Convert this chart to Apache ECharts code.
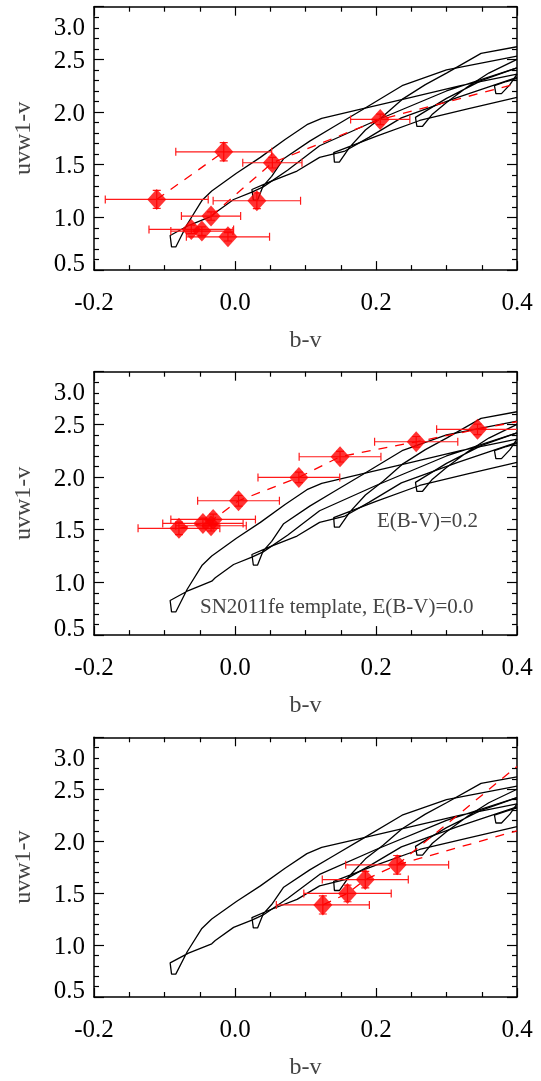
<!DOCTYPE html>
<html>
<head>
<meta charset="utf-8">
<title>uvw1-v vs b-v</title>
<script src="https://cdn.jsdelivr.net/npm/echarts@6/dist/echarts.min.js"></script>
<style>
  html, body { margin: 0; padding: 0; background: #fff; }
  #chart { width: 541px; height: 1081px; }
</style>
</head>
<body>
<div id="chart"></div>
<script>
// SN2011fe template tracks, one per E(B-V) step: [b-v, uvw1-v]
var track0 = [[0.40,2.42],[0.30,2.20],[0.20,1.92],[0.12,1.68],[0.075,1.45],[0.04,1.29],[0.024,1.24],[-0.002,1.17],[-0.028,1.044],[-0.033,1.012],[-0.066,0.923],[-0.092,0.828],[-0.090,0.72],[-0.084,0.72],[-0.068,0.933],[-0.047,1.16],[-0.033,1.25],[0.002,1.42],[0.036,1.57],[0.071,1.74],[0.102,1.88],[0.123,1.94],[0.177,2.025],[0.25,2.14],[0.32,2.25],[0.40,2.36]];
var track1 = [[0.40,2.33],[0.316,2.14],[0.236,1.945],[0.19,1.76],[0.156,1.63],[0.12,1.57],[0.088,1.44],[0.05,1.34],[0.024,1.265],[0.026,1.165],[0.032,1.165],[0.04,1.30],[0.052,1.39],[0.069,1.557],[0.106,1.724],[0.14,1.86],[0.18,2.02],[0.237,2.25],[0.30,2.40],[0.40,2.53]];
var track2 = [[0.40,2.14],[0.33,2.03],[0.262,1.92],[0.20,1.77],[0.14,1.614],[0.141,1.525],[0.148,1.525],[0.163,1.67],[0.185,1.83],[0.21,1.96],[0.237,2.12],[0.27,2.26],[0.30,2.37],[0.349,2.557],[0.40,2.62]];
var track3 = [[0.40,2.42],[0.35,2.30],[0.30,2.13],[0.256,1.95],[0.258,1.865],[0.266,1.865],[0.28,1.98],[0.30,2.09],[0.33,2.24],[0.36,2.37],[0.40,2.50]];
var track4 = [[0.40,2.32],[0.385,2.29],[0.368,2.25],[0.370,2.175],[0.378,2.175],[0.39,2.26],[0.40,2.36]];
var templateTracks = [track0, track1, track2, track3, track4];

// panel 1 observations
var obs1X    = [-0.111, -0.016, 0.053, 0.031, -0.034, -0.062, -0.047, -0.010, 0.206];
var obs1Y    = [1.171, 1.623, 1.519, 1.158, 1.013, 0.886, 0.870, 0.816, 1.930];
var obs1XErr = [0.073, 0.068, 0.042, 0.062, 0.042, 0.060, 0.044, 0.059, 0.042];
var obs1YErr = [0.085, 0.087, 0.050, 0.075, 0.040, 0.040, 0.040, 0.040, 0.050];
var dash1 = [
  [[-0.111,1.171],[-0.016,1.623]],
  [[-0.034,1.013],[0.053,1.519],[0.206,1.930],[0.40,2.27]]
];

// panel 2 observations
var obs2X    = [-0.0795, -0.0455, -0.034, -0.031, 0.005, 0.0906, 0.149, 0.257, 0.344];
var obs2Y    = [1.513, 1.560, 1.538, 1.598, 1.775, 1.997, 2.193, 2.335, 2.453];
var obs2XErr = [0.058, 0.057, 0.050, 0.060, 0.058, 0.058, 0.058, 0.059, 0.058];
var obs2YErr = [0.060, 0.050, 0.050, 0.050, 0.050, 0.050, 0.050, 0.050, 0.050];
var dash2 = [
  [[-0.0795,1.513],[-0.0455,1.560],[-0.034,1.538],[-0.031,1.598],[0.005,1.775],[0.0906,1.997],[0.149,2.193],[0.257,2.335],[0.344,2.453],[0.40,2.525]]
];

// panel 3 observations
var obs3X    = [0.1246, 0.1596, 0.1848, 0.230];
var obs3Y    = [1.386, 1.497, 1.630, 1.772];
var obs3XErr = [0.066, 0.062, 0.061, 0.073];
var obs3YErr = [0.087, 0.080, 0.080, 0.090];
var dash3 = [
  [[0.1246,1.386],[0.1596,1.497],[0.1848,1.630],[0.230,1.772],[0.40,2.10]],
  [[0.230,1.772],[0.40,2.72]]
];

var xTicks = { min: -0.2, max: 0.4, interval: 0.2 };
var yTicks = { min: 0.5, max: 3.0, interval: 0.5 };

var panels = [
  { x: obs1X, y: obs1Y, ex: obs1XErr, ey: obs1YErr, dash: dash1 },
  { x: obs2X, y: obs2Y, ex: obs2XErr, ey: obs2YErr, dash: dash2 },
  { x: obs3X, y: obs3Y, ex: obs3XErr, ey: obs3YErr, dash: dash3 }
];

var FONT = '"Liberation Serif", "DejaVu Serif", serif';
var RED = '#ff0000';
var gridTops = [6.7, 371.7, 737.3];

var grids = [], xAxes = [], yAxes = [], series = [];

function errorBars(params, api) {
  var x = api.value(0), y = api.value(1), ex = api.value(2), ey = api.value(3);
  var l = api.coord([x - ex, y]), r = api.coord([x + ex, y]);
  var b = api.coord([x, y - ey]), t = api.coord([x, y + ey]);
  var c = 4;
  var st = { stroke: '#ff1a1a', lineWidth: 1.2 };
  return {
    type: 'group',
    children: [
      { type: 'line', shape: { x1: l[0], y1: l[1], x2: r[0], y2: r[1] }, style: st },
      { type: 'line', shape: { x1: l[0], y1: l[1] - c, x2: l[0], y2: l[1] + c }, style: st },
      { type: 'line', shape: { x1: r[0], y1: r[1] - c, x2: r[0], y2: r[1] + c }, style: st },
      { type: 'line', shape: { x1: b[0], y1: b[1], x2: t[0], y2: t[1] }, style: st },
      { type: 'line', shape: { x1: b[0] - c, y1: b[1], x2: b[0] + c, y2: b[1] }, style: st },
      { type: 'line', shape: { x1: t[0] - c, y1: t[1], x2: t[0] + c, y2: t[1] }, style: st }
    ]
  };
}

panels.forEach(function (p, i) {
  grids.push({ left: 94, width: 423, top: gridTops[i], height: 263.4 });

  var xBase = {
    gridIndex: i, type: 'value',
    min: xTicks.min, max: xTicks.max, interval: xTicks.interval,
    axisLine: { show: true, onZero: false, lineStyle: { color: '#000', width: 1.5 } },
    axisTick: { show: true, inside: true, length: 9, lineStyle: { color: '#000', width: 1.2 } },
    minorTick: { show: true, splitNumber: 4, length: 5, lineStyle: { color: '#000', width: 1.2 } },
    splitLine: { show: false }
  };
  xAxes.push(Object.assign({}, xBase, {
    position: 'bottom',
    axisLabel: {
      show: true, margin: 21, color: '#000', fontFamily: FONT, fontSize: 25,
      showMinLabel: true, showMaxLabel: true,
      formatter: function (v) { return v.toFixed(1); }
    },
    name: 'b-v', nameLocation: 'middle', nameGap: 59,
    nameTextStyle: { color: '#444', fontFamily: FONT, fontSize: 24 }
  }));
  xAxes.push(Object.assign({}, xBase, { position: 'top', axisLabel: { show: false } }));

  var yBase = {
    gridIndex: i, type: 'value',
    min: yTicks.min, max: yTicks.max, interval: yTicks.interval,
    axisLine: { show: true, onZero: false, lineStyle: { color: '#000', width: 1.5 } },
    axisTick: { show: true, inside: true, length: 10, lineStyle: { color: '#000', width: 1.2 } },
    minorTick: { show: true, splitNumber: 5, length: 5, lineStyle: { color: '#000', width: 1.2 } },
    splitLine: { show: false }
  };
  yAxes.push(Object.assign({}, yBase, {
    position: 'left',
    axisLabel: {
      show: true, margin: 9, color: '#000', fontFamily: FONT, fontSize: 25,
      showMinLabel: true, showMaxLabel: true,
      formatter: function (v) {
        var s = v.toFixed(1);
        if (v >= 3) return '{top|' + s + '}';
        if (v <= 0.5) return '{bot|' + s + '}';
        return '{mid|' + s + '}';
      },
      rich: {
        top: { padding: [44, 0, 0, 0], fontFamily: FONT, fontSize: 25, color: '#000' },
        bot: { padding: [0, 0, 12, 0], fontFamily: FONT, fontSize: 25, color: '#000' },
        mid: { padding: [4, 0, 0, 0], fontFamily: FONT, fontSize: 25, color: '#000' }
      }
    },
    name: 'uvw1-v', nameLocation: 'middle', nameGap: 58,
    nameTextStyle: { color: '#444', fontFamily: FONT, fontSize: 24 }
  }));
  yAxes.push(Object.assign({}, yBase, { position: 'right', axisLabel: { show: false } }));

  var xi = i * 2, yi = i * 2;

  templateTracks.forEach(function (tr) {
    series.push({
      type: 'line', xAxisIndex: xi, yAxisIndex: yi, data: tr,
      showSymbol: false, symbol: 'none', clip: true, silent: true,
      lineStyle: { color: '#000', width: 1.3 }, z: 2
    });
  });

  p.dash.forEach(function (d) {
    series.push({
      type: 'line', xAxisIndex: xi, yAxisIndex: yi, data: d,
      showSymbol: false, symbol: 'none', clip: true, silent: true,
      lineStyle: { color: RED, width: 1.3, type: [9, 8] }, z: 3
    });
  });

  var errData = p.x.map(function (v, k) { return [v, p.y[k], p.ex[k], p.ey[k]]; });
  series.push({
    type: 'custom', xAxisIndex: xi, yAxisIndex: yi, data: errData,
    renderItem: errorBars, clip: true, silent: true, z: 4
  });

  series.push({
    type: 'scatter', xAxisIndex: xi, yAxisIndex: yi,
    data: p.x.map(function (v, k) { return [v, p.y[k]]; }),
    symbol: 'diamond', symbolSize: [19, 21], silent: true,
    itemStyle: { color: RED }, z: 5
  });
});

var chart = echarts.init(document.getElementById('chart'), null, { renderer: 'canvas' });
chart.setOption({
  animation: false,
  backgroundColor: '#fff',
  grid: grids,
  xAxis: xAxes,
  yAxis: yAxes,
  series: series,
  graphic: [
    { type: 'text', left: 377, top: 511, silent: true,
      style: { text: 'E(B-V)=0.2', font: '21px "Liberation Serif"', fill: '#444' } },
    { type: 'text', left: 200, top: 597, silent: true,
      style: { text: 'SN2011fe template, E(B-V)=0.0', font: '21px "Liberation Serif"', fill: '#444' } }
  ]
});
</script>
</body>
</html>
